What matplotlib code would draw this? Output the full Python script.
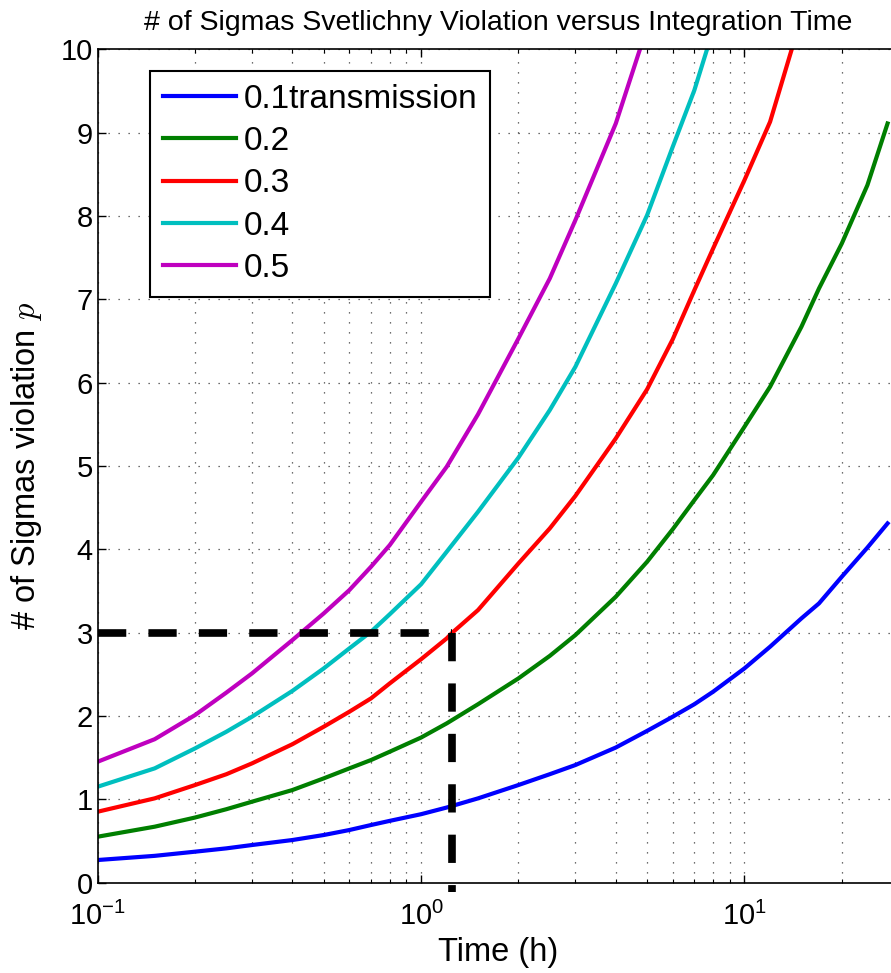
import numpy as np
import matplotlib
matplotlib.use("Agg")
import matplotlib.pyplot as plt

plt.rcParams['font.family'] = ['Liberation Sans', 'DejaVu Sans']
plt.rcParams['mathtext.fontset'] = 'cm'

# values (time in hours, # of sigmas)
t_01 = [0.1, 0.15, 0.2, 0.25, 0.3, 0.4, 0.5, 0.6, 0.7, 0.8, 1, 1.2, 1.5, 2, 2.5, 3,
        4, 5, 6, 7, 8, 10, 12, 15, 17, 20, 24, 27.7]
y_01 = [0.27, 0.32, 0.37, 0.41, 0.45, 0.51, 0.57, 0.63, 0.69, 0.74, 0.82, 0.90, 1.01, 1.17, 1.30, 1.41,
        1.62, 1.82, 1.99, 2.14, 2.29, 2.57, 2.83, 3.17, 3.35, 3.67, 4.02, 4.31]

t_02 = [0.1, 0.15, 0.2, 0.25, 0.3, 0.4, 0.5, 0.6, 0.7, 0.8, 1, 1.2, 1.5, 2, 2.5, 3,
        4, 5, 6, 7, 8, 10, 12, 15, 17, 20, 24, 27.7]
y_02 = [0.55, 0.67, 0.78, 0.88, 0.97, 1.11, 1.25, 1.37, 1.47, 1.57, 1.74, 1.91, 2.14, 2.45, 2.72, 2.97,
        3.43, 3.85, 4.24, 4.59, 4.89, 5.47, 5.95, 6.67, 7.13, 7.67, 8.37, 9.11]

t_03 = [0.1, 0.15, 0.2, 0.25, 0.3, 0.4, 0.5, 0.6, 0.7, 0.8, 1, 1.2, 1.25, 1.5, 2, 2.5, 3,
        4, 5, 6, 7, 8, 10, 12, 14.0]
y_03 = [0.85, 1.01, 1.17, 1.30, 1.43, 1.66, 1.87, 2.05, 2.21, 2.39, 2.68, 2.93, 3.0, 3.27, 3.83, 4.25, 4.64,
        5.33, 5.92, 6.52, 7.11, 7.61, 8.43, 9.13, 10.0]

t_04 = [0.1, 0.15, 0.2, 0.25, 0.3, 0.4, 0.5, 0.6, 0.7, 0.8, 1, 1.2, 1.5, 2, 2.5, 3,
        4, 5, 6, 7, 7.66]
y_04 = [1.15, 1.37, 1.61, 1.81, 1.99, 2.30, 2.57, 2.81, 3.01, 3.22, 3.58, 3.97, 4.45, 5.10, 5.67, 6.19,
        7.19, 8.01, 8.83, 9.51, 10.0]

t_05 = [0.1, 0.15, 0.2, 0.25, 0.3, 0.4, 0.5, 0.6, 0.7, 0.8, 1, 1.2, 1.5, 2, 2.5, 3,
        4, 4.75]
y_05 = [1.45, 1.72, 2.01, 2.28, 2.51, 2.91, 3.23, 3.51, 3.79, 4.05, 4.57, 4.99, 5.62, 6.53, 7.25, 7.95,
        9.11, 10.0]

labels = ['0.1transmission', '0.2', '0.3', '0.4', '0.5']
colors = ['#0000ff', '#007f00', '#ff0000', '#00bfbf', '#bf00bf']

# 3 sigma marker
t_cross = 1.25
sigma_level = 3

fig = plt.figure(figsize=(8.91, 9.73), dpi=100)
ax = fig.add_axes([0.1097, 0.0930, 0.899, 0.8563])

series = [(t_01, y_01), (t_02, y_02), (t_03, y_03), (t_04, y_04), (t_05, y_05)]
for (t, y), lab, c in zip(series, labels, colors):
    ax.plot(t, y, color=c, lw=3, label=lab, solid_joinstyle='round')

ax.plot([0.1, t_cross], [sigma_level, sigma_level], color='k', lw=5.5,
        dashes=(3.7, 2.9), dash_capstyle='butt')
ax.plot([t_cross, t_cross], [sigma_level, -0.11], color='k', lw=5.5,
        dashes=(3.7, 2.9), dash_capstyle='butt', clip_on=False)

ax.set_xscale('log')
ax.set_xlim(0.1, 30)
ax.set_ylim(0, 10)
ax.set_yticks(range(0, 11))

grid_style = dict(color='0.25', ls=(0, (1, 7)), lw=0.9)
ax.grid(True, which='major', axis='both', **grid_style)
ax.grid(True, which='minor', axis='x', **grid_style)

ax.tick_params(which='both', direction='in', top=True, right=True, labelsize=21)
ax.tick_params(which='major', length=6, width=1)
ax.tick_params(which='minor', length=3, width=0.8)
ax.tick_params(axis='x', which='major', pad=14)
for s in ax.spines.values():
    s.set_linewidth(1.2)

ax.set_title('# of Sigmas Svetlichny Violation versus Integration Time', fontsize=20.5, pad=14)
ax.set_xlabel('Time (h)', fontsize=23.5, labelpad=4)
ax.set_ylabel('# of Sigmas violation $p$', fontsize=23.5, labelpad=12)

leg = ax.legend(loc='upper left', bbox_to_anchor=(0.0653, 0.974), borderaxespad=0,
                fontsize=24, fancybox=False, framealpha=1, edgecolor='k',
                handlelength=2.2, handletextpad=0.24, labelspacing=0.34,
                borderpad=0.38)
leg.get_frame().set_linewidth(1.5)

fig.savefig('out.png', dpi=100)
